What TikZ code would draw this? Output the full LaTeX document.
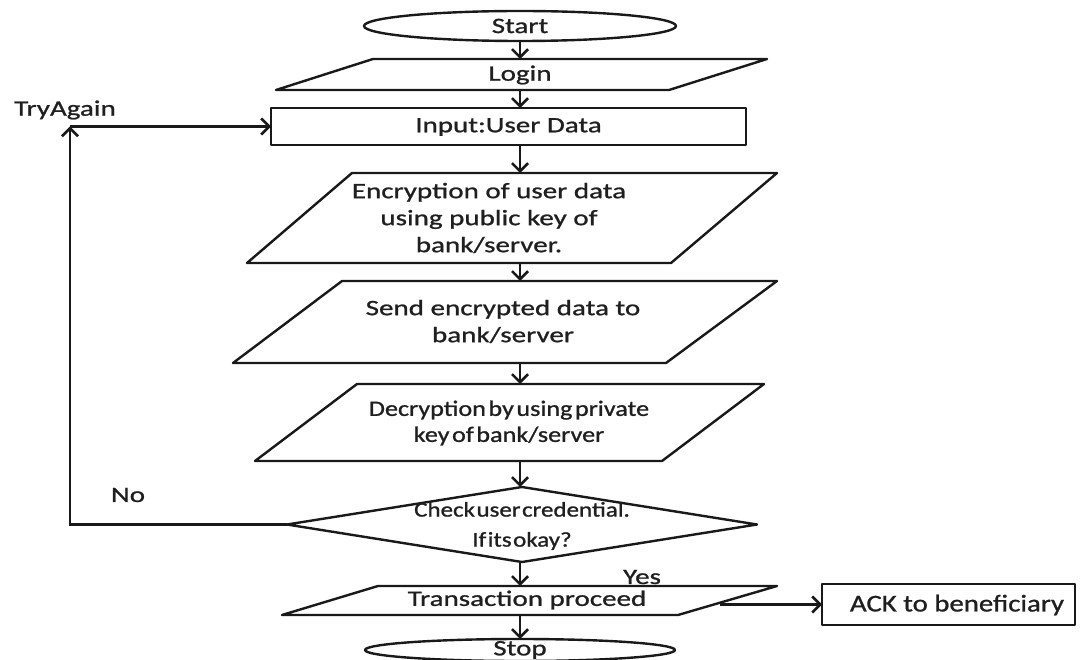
\documentclass[tikz,border=0pt]{standalone}
\usepackage{fontspec}
\setmainfont{Carlito}
\newfontfamily\wfont[FakeStretch=1.32,FakeBold=1]{Carlito}
\newfontfamily\nfont[FakeStretch=1.19,FakeBold=1]{Carlito}
\newfontfamily\afont[FakeStretch=1.2,FakeBold=1]{Carlito}
\usetikzlibrary{arrows.meta,shapes.geometric,calc}
% narrow word spacing for the condensed captions
\newcommand\narrowgaps[1]{\spaceskip=#1\relax}

\tikzset{
  box/.style={draw=none, inner sep=0pt, outer sep=0pt},
  outline/.style={draw=black!90, line width=2.4pt, line join=round},
  flow/.style={draw=black!90, line width=2.6pt, -{Straight Barb[length=8pt,width=16pt]}},
  txt/.style={font=\wfont\fontsize{22}{27}\selectfont, text=black!88, inner sep=0pt, align=center},
  txttight/.style={font=\nfont\fontsize{22}{27}\selectfont, text=black!88, inner sep=0pt, align=center},
}

\begin{document}
\begin{tikzpicture}[x=1pt,y=-1pt]
\useasboundingbox (0,0) rectangle (1083,660);
\coordinate (axis) at (520,0);

% terminals
\node[box, ellipse, outline, minimum width=312pt, minimum height=30pt] (start) at (520,26) {};
\node[txt] (starttext) at (520,26) {Start};

% login (parallelogram)
\node[box, minimum width=491pt, minimum height=31pt] (login) at (521.5,74.5) {};
\draw[outline] ([xshift=97pt]login.north west) -- (login.north east)
  -- ([xshift=-98pt]login.south east) -- (login.south west) -- cycle;
\node[txt] (logintext) at (520,75) {Login};

% input box
\node[box, outline, minimum width=475pt, minimum height=37pt] (input) at (508.5,126.5) {};
\node[txt] (inputtext) at (508.5,127) {Input:User Data};

% encryption
\node[box, minimum width=530pt, minimum height=90pt] (enc) at (512,218) {};
\draw[outline] ([xshift=105pt]enc.north west) -- (enc.north east)
  -- ([xshift=-106pt]enc.south east) -- (enc.south west) -- cycle;
\node[txt] (enctext) at (489,218) {Encryption of user data\\using public key of\\bank/server.};

% send
\node[box, minimum width=544pt, minimum height=82pt] (send) at (505,322) {};
\draw[outline] ([xshift=109pt]send.north west) -- (send.north east)
  -- ([xshift=-111pt]send.south east) -- (send.south west) -- cycle;
\node[txt] (sendtext) at (503,321.5) {Send encrypted data to\\bank/server};

% decryption
\node[box, minimum width=509pt, minimum height=77pt] (dec) at (509.5,422.5) {};
\draw[outline] ([xshift=102pt]dec.north west) -- (dec.north east)
  -- ([xshift=-102pt]dec.south east) -- (dec.south west) -- cycle;
\node[txttight, font=\nfont\fontsize{22}{26}\selectfont] (dectext) at (509,423)
  {\narrowgaps{2.5pt}Decryption by using private\\\narrowgaps{2.5pt}key of bank/server};

% decision
\node[box, diamond, outline, minimum width=470pt, minimum height=75pt] (check) at (522,524.5) {};
\node[txttight, font=\nfont\fontsize{21}{30}\selectfont] (checktext) at (522,526)
  {\narrowgaps{1.5pt}Check user credential.\\\narrowgaps{1.5pt}If its okay?};

% transaction
\node[box, minimum width=495pt, minimum height=29pt] (trans) at (529.5,600.5) {};
\draw[outline] ([xshift=96pt]trans.north west) -- (trans.north east)
  -- ([xshift=-99pt]trans.south east) -- (trans.south west) -- cycle;
\node[txt] (transtext) at (527,600) {Transaction proceed};

% stop
\node[box, ellipse, outline, minimum width=310pt, minimum height=22pt] (stop) at (520,650) {};
\node[txt] (stoptext) at (520,650) {Stop};

% acknowledgement
\node[box, outline, minimum width=253pt, minimum height=41pt] (ack) at (948.5,604.5) {};
\node[txt, font=\afont\fontsize{24}{28}\selectfont] (acktext) at (957,605) {ACK to beneficiary};

% main flow
\draw[flow] (start.south) -- (login.north -| axis);
\draw[flow] (login.south -| axis) -- (input.north -| axis);
\draw[flow] (input.south -| axis) -- (enc.north -| axis);
\draw[flow] (enc.south -| axis) -- (send.north -| axis);
\draw[flow] (send.south -| axis) -- (dec.north -| axis);
\draw[flow] (dec.south -| axis) -- (check.north -| axis);
\draw[flow] (check.south -| axis) -- (trans.north -| axis);
\draw[flow] (trans.south -| axis) -- (stop.north);

% retry loop
\coordinate (corner) at (70,126.5);
\draw[flow] (check.west) -| (corner);
\draw[flow] (corner) -- (input.west);

% acknowledgement branch
\coordinate (tx) at (720,604.5);
\draw[flow] (tx) -- (ack.west);

% labels
\node[txt] (tryagain) at (65,110) {TryAgain};
\node[txt] (no) at (128,495) {No};
\node[txt] (yes) at (642,577) {Yes};
\end{tikzpicture}
\end{document}
